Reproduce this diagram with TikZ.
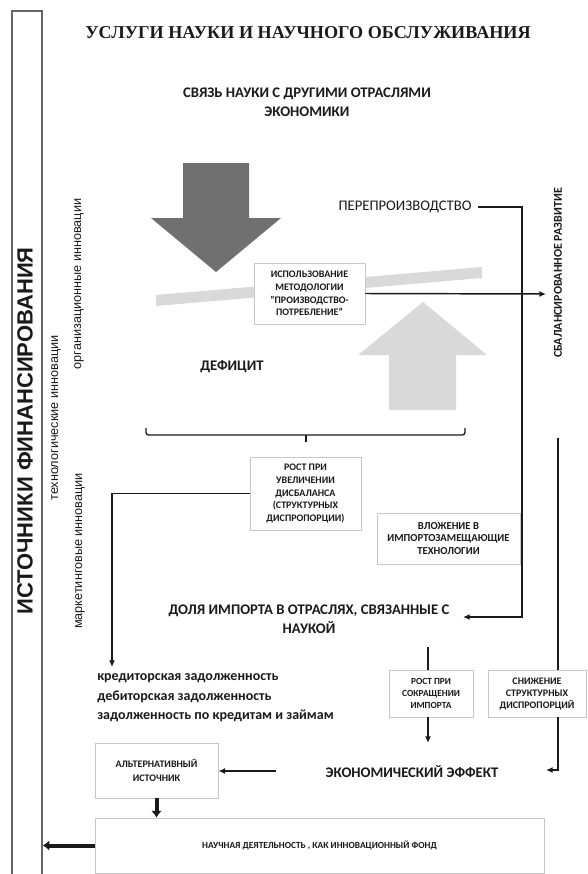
\documentclass[tikz,border=0pt]{standalone}
\usepackage{fontspec}
\setmainfont{Carlito}
\newfontfamily\arialf{Liberation Sans}
\newfontfamily\timesf{Liberation Serif}
\usetikzlibrary{arrows.meta}
\definecolor{darkarr}{HTML}{707070}
\definecolor{lightarr}{HTML}{D9D9D9}
\definecolor{boxline}{HTML}{C8C8C8}
\definecolor{ink}{HTML}{1A1A1A}
\definecolor{colline}{HTML}{666666}
\begin{document}
\begin{tikzpicture}[x=0.75pt,y=-0.75pt,
  lbl/.style={font=\bfseries\fontsize{11}{13.5}\selectfont, align=center, inner sep=0pt, text=ink},
  boxn/.style={draw=boxline, line width=0.6pt, fill=white, align=center, text=ink, font=\bfseries\fontsize{7.5}{9.4}\selectfont, inner sep=1pt},
  side/.style={rotate=90, font=\arialf\fontsize{9.5}{11}\selectfont, inner sep=0pt, text=ink},
  conn/.style={draw=ink, line width=1.1pt},
  arr/.style={conn, -{Latex[length=5pt,width=4.5pt]}},
  thickarr/.style={draw=ink, line width=3pt, -{Latex[length=5pt,width=8pt]}}
]
\useasboundingbox (0,0) rectangle (587,874);

% left column
\node[draw=colline, line width=1.2pt, minimum width=22.5pt, minimum height=648.75pt, inner sep=0pt] (leftcol) at (27,443.5) {};
\node[rotate=90, font=\arialf\bfseries\fontsize{16.5}{20}\selectfont, inner sep=0pt, text=ink] (fin) at (25,431) {ИСТОЧНИКИ ФИНАНСИРОВАНИЯ};

% side labels
\node[side] (tech) at (56,418) {технологические инновации};
\node[side] (org) at (79,284) {организационные инновации};
\node[side] (mark) at (80,551) {маркетинговые инновации};

% title and headers
\node[font=\timesf\bfseries\fontsize{13.6}{16}\selectfont, inner sep=0pt, text=ink] (title) at (308,33) {УСЛУГИ НАУКИ И НАУЧНОГО ОБСЛУЖИВАНИЯ};
\node[lbl, align=center] (svyaz) at (307,102.5) {СВЯЗЬ НАУКИ С ДРУГИМИ ОТРАСЛЯМИ\\[1pt]ЭКОНОМИКИ};

% big arrows and beam
\fill[darkarr] (183,163) -- (249,163) -- (249,218) -- (281,218) -- (216,272) -- (151,218) -- (183,218) -- cycle;
\fill[lightarr] (156,295) -- (482,267) -- (482,278) -- (156,306) -- cycle;
\fill[lightarr] (389,410) -- (456,410) -- (456,355) -- (487,355) -- (423,302) -- (358,355) -- (389,355) -- cycle;

\node[boxn, minimum width=83.25pt, minimum height=45.75pt] (B1) at (309.5,293.5) {ИСПОЛЬЗОВАНИЕ\\МЕТОДОЛОГИИ\\"ПРОИЗВОДСТВО-\\ПОТРЕБЛЕНИЕ"};

\node[font=\fontsize{11}{13}\selectfont, inner sep=0pt, text=ink] (perep) at (405,207) {ПЕРЕПРОИЗВОДСТВО};
\node[lbl, rotate=90, font=\bfseries\fontsize{9}{11}\selectfont] (sbal) at (558,273) {СБАЛАНСИРОВАННОЕ РАЗВИТИЕ};
\node[lbl] (def) at (232,367) {ДЕФИЦИТ};

% bracket
\draw[conn, line width=1pt, rounded corners=2pt] (146,428) -- (146,435) -- (465,435) -- (465,428);
\draw[conn, line width=1pt] (306,435) -- (306,442);

% boxes
\node[boxn, minimum width=83.25pt, minimum height=54.75pt] (B2) at (305.5,493.5) {РОСТ ПРИ\\УВЕЛИЧЕНИИ\\ДИСБАЛАНСА\\(СТРУКТУРНЫХ\\ДИСПРОПОРЦИИ)};
\node[boxn, minimum width=107.25pt, minimum height=38.25pt, font=\bfseries\fontsize{8}{9.4}\selectfont] (B3) at (448.5,538.5) {ВЛОЖЕНИЕ В\\ИМПОРТОЗАМЕЩАЮЩИЕ\\ТЕХНОЛОГИИ};
\node[lbl] (dolya) at (309,619) {ДОЛЯ ИМПОРТА В ОТРАСЛЯХ, СВЯЗАННЫЕ С\\[1pt]НАУКОЙ};
\node[boxn, minimum width=63pt, minimum height=35.25pt, font=\bfseries\fontsize{7}{9}\selectfont] (B4) at (431,693.5) {РОСТ ПРИ\\СОКРАЩЕНИИ\\ИМПОРТА};
\node[boxn, minimum width=73.5pt, minimum height=35.25pt, font=\bfseries\fontsize{7.5}{9}\selectfont] (B5) at (537,693.5) {СНИЖЕНИЕ\\СТРУКТУРНЫХ\\ДИСПРОПОРЦИЙ};
\node[font=\bfseries\fontsize{10.5}{14.6}\selectfont, align=left, anchor=west, inner sep=0pt, text=ink] (debt) at (97,698) {кредиторская задолженность\\дебиторская задолженность\\задолженность по кредитам и займам};
\node[lbl] (econ) at (412,772) {ЭКОНОМИЧЕСКИЙ ЭФФЕКТ};
\node[boxn, minimum width=92.25pt, minimum height=41.25pt, font=\bfseries\fontsize{7.5}{10.5}\selectfont] (B6) at (156.5,770.5) {АЛЬТЕРНАТИВНЫЙ\\ИСТОЧНИК};
\node[boxn, minimum width=336.75pt, minimum height=41.25pt, font=\bfseries\fontsize{7}{9}\selectfont] (B7) at (319.5,845.5) {НАУЧНАЯ ДЕЯТЕЛЬНОСТЬ , КАК ИННОВАЦИОННЫЙ ФОНД};

% coordinates
\coordinate (pr) at (522,207);
\coordinate (dolyain) at (463,617);
\coordinate (sbalin) at (546,294);
\coordinate (s1) at (558,438);
\coordinate (s2) at (558,770);
\coordinate (econin) at (546,770);
\coordinate (d1) at (428,647);
\coordinate (d2) at (428,743);
\coordinate (debtin) at (112,667);
\coordinate (a1) at (276,771);

% connectors
\draw[arr] ([xshift=5pt]perep.east) -- (pr) -- (pr |- dolyain) -- (dolyain);
\draw[arr] (B1.east) -- (sbalin);
\draw[conn] (s1) -- (s1 |- B5.north);
\draw[arr] (s1 |- B5.south) -- (s2) -- (econin);
\draw[conn] (d1) -- (d1 |- B4.north);
\draw[arr] (d1 |- B4.south) -- (d2);
\draw[arr] (B2.west) -| (debtin);
\draw[arr] (a1) -- (a1 -| B6.east);
\draw[thickarr] (B6.south) -- (B6.south |- B7.north);
\draw[thickarr] (B7.west) -- (B7.west -| leftcol.east);
\end{tikzpicture}
\end{document}
